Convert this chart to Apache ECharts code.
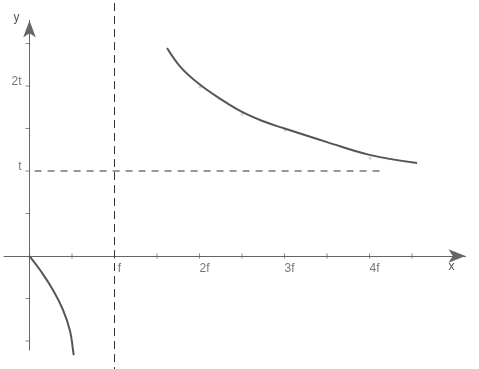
<!DOCTYPE html>
<html><head><meta charset="utf-8">
<script src="https://cdn.jsdelivr.net/npm/echarts@6/dist/echarts.min.js"></script>
<style>html,body{margin:0;padding:0;background:#fff}#c{width:479px;height:369px}</style>
</head><body><div id="c"></div>
<script>
// curve branches (u in units of f, v in units of t)
const upperBranch = [[1.618,2.447],[1.78,2.22],[2.0,2.02],[2.25,1.845],[2.5,1.695],[2.75,1.585],[3.0,1.5],[3.5,1.34],[4.0,1.19],[4.559,1.094]];
const lowerBranch = [[0,0],[0.124,-0.165],[0.276,-0.40],[0.394,-0.635],[0.476,-0.88],[0.512,-1.106],[0.52,-1.165]];
const markedPoints = [[2.006,1.988],[2.5,1.671],[3.006,1.482],[4.006,1.153]];
// asymptote guides
const verticalGuide = [[1,2.976],[1,-1.33]];
const horizontalGuide = [[0.06,1],[4.19,1]];
// ticks and labels
const xTickValues = [0.5,1,1.5,2,2.5,3,3.5,4,4.5];
const yTickValues = [-1,-0.5,0.5,1,1.5,2,2.5];
const xLabelValues = [1,2,3,4];
const xLabelTexts = ['f','2f','3f','4f'];
const yLabelValues = [1,2];
const yLabelTexts = ['t','2t'];

const axisColor = '#666';
const textStyle = {color:'#555', fontSize:12, fontFamily:'Liberation Sans, Arial, sans-serif'};
const chart = echarts.init(document.getElementById('c'), null, {renderer:'canvas'});
chart.setOption({
  animation:false,
  grid:{left:4, right:13.5, top:20.5, bottom:19, containLabel:false, outerBoundsMode:'none'},
  xAxis:{type:'value', min:-0.3, max:5.129, splitLine:{show:false},
    axisLine:{onZero:true, symbol:['none','arrow'], symbolSize:[10,17], lineStyle:{color:axisColor,width:1}},
    axisTick:{show:false}, axisLabel:{show:false},
    name:'x', nameLocation:'end', nameGap:-17, nameTextStyle:{...textStyle, align:'left', verticalAlign:'top', padding:[5,0,0,0]}
  },
  yAxis:{type:'value', min:-1.106, max:2.771, splitLine:{show:false},
    axisLine:{onZero:true, symbol:['none','arrow'], symbolSize:[9.5,17], lineStyle:{color:axisColor,width:1}},
    axisTick:{show:false}, axisLabel:{show:false},
    name:'y', nameLocation:'end', nameGap:-3, nameTextStyle:{...textStyle, align:'right', verticalAlign:'bottom', padding:[0,10,0,0]}
  },
  series:[
    {type:'line', data:verticalGuide, symbol:'none', clip:false, lineStyle:{color:'#333', width:1, type:[8,5]}, silent:true},
    {type:'line', data:horizontalGuide, symbol:'none', clip:false, lineStyle:{color:'#333', width:1, type:[7,6]}, silent:true},
    {type:'scatter', data:xTickValues.map(v=>[v,0]), symbol:'rect', symbolSize:[1,5], itemStyle:{color:axisColor}, silent:true},
    {type:'scatter', data:yTickValues.map(v=>[0,v]), symbol:'rect', symbolSize:[4,1], symbolOffset:[-2,0], itemStyle:{color:axisColor}, silent:true},
    {type:'scatter', data:xLabelValues.map((v,i)=>({value:[v,0], name:xLabelTexts[i]})), symbolSize:0, silent:true,
      label:{show:true, formatter:p=>p.name, position:[5,7], align:'center', verticalAlign:'top', ...textStyle}},
    {type:'scatter', data:yLabelValues.map((v,i)=>({value:[0,v], name:yLabelTexts[i]})), symbolSize:0, silent:true,
      label:{show:true, formatter:p=>p.name, position:'left', distance:8, offset:[0,2], align:'right', verticalAlign:'bottom', ...textStyle}},
    {type:'line', data:upperBranch, smooth:0.4, symbol:'none', clip:false, lineStyle:{color:'#555', width:2}},
    {type:'line', data:lowerBranch, smooth:0.45, symbol:'none', clip:false, lineStyle:{color:'#555', width:2}},
    {type:'scatter', data:markedPoints, symbol:'circle', symbolSize:3, itemStyle:{color:'#c8c8c8'}, silent:true}
  ]
});
</script></body></html>
